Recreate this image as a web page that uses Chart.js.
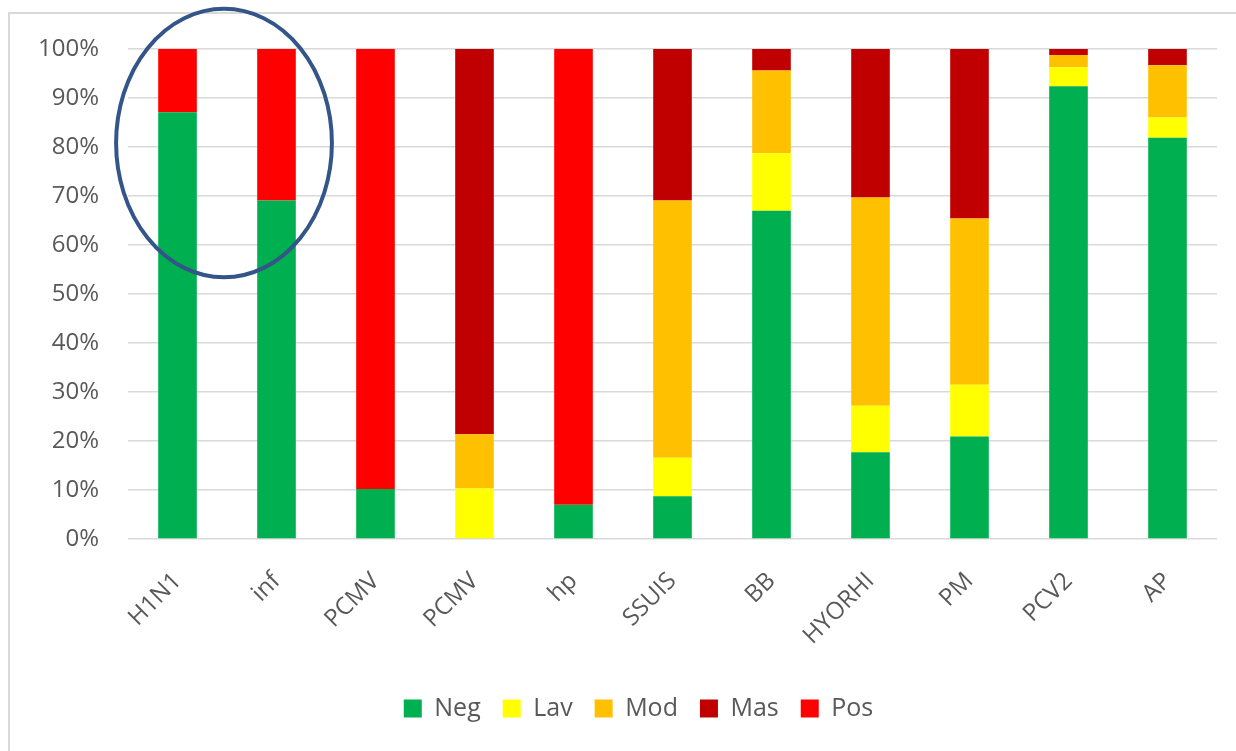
<!DOCTYPE html>
<html>
<head>
<meta charset="utf-8">
<script src="https://cdn.jsdelivr.net/npm/chart.js@4/dist/chart.umd.min.js"></script>
<style>
  html, body { margin: 0; padding: 0; background: #fff; }
  #wrap { position: relative; width: 1236px; height: 751px; overflow: hidden; }
  #frame { position: absolute; left: 8px; top: 12px; width: 1300px; height: 800px; border-left: 2px solid #d9d9d9; border-top: 2px solid #d9d9d9; }
  #chart { position: absolute; left: 0; top: 0; }
</style>
</head>
<body>
<div id="wrap">
  <div id="frame"></div>
  <canvas id="chart" width="1236" height="751"></canvas>
</div>
<script>
const categories = ['H1N1', 'inf', 'PCMV', 'PCMV', 'hp', 'SSUIS', 'BB', 'HYORHI', 'PM', 'PCV2', 'AP'];
const negValues = [87.1, 69.1, 10.2, 0, 7.0, 8.7, 67.0, 17.7, 20.9, 92.4, 81.9];
const lavValues = [0, 0, 0, 10.3, 0, 7.9, 11.7, 9.5, 10.6, 3.9, 4.1];
const modValues = [0, 0, 0, 11.1, 0, 52.5, 16.9, 42.5, 33.9, 2.5, 10.7];
const masValues = [0, 0, 0, 78.6, 0, 30.9, 4.4, 30.3, 34.6, 1.2, 3.3];
const posValues = [12.9, 30.9, 89.8, 0, 93.0, 0, 0, 0, 0, 0, 0];
const yTicks = [0, 10, 20, 30, 40, 50, 60, 70, 80, 90, 100];

const FONT = "'Open Sans', 'Liberation Sans', sans-serif";
const textColor = '#595959';

// blue ellipse drawn around the first two bars
const ellipsePlugin = {
  id: 'ellipse',
  afterLayout(chart) {
    // legend in the original sits a bit right of the canvas centre
    chart.legend.left += 30;
    chart.legend.right += 30;
  },
  afterDraw(chart) {
    const x = chart.scales.x, y = chart.scales.y;
    const x0 = x.getPixelForValue(0), x1 = x.getPixelForValue(1);
    const cx = (x0 + x1) / 2 - 3;
    const cy = y.getPixelForValue(80.8);
    const rx = (x1 - x0) * 1.09;
    const ry = y.getPixelForValue(53.4) - cy;
    const ctx = chart.ctx;
    ctx.save();
    ctx.beginPath();
    ctx.ellipse(cx, cy, rx, ry, 0, 0, Math.PI * 2);
    ctx.lineWidth = 4;
    ctx.strokeStyle = '#34558a';
    ctx.stroke();
    ctx.restore();
  }
};

const mk = (label, data, color) => ({ label, data, backgroundColor: color, borderWidth: 0, barPercentage: 0.39, categoryPercentage: 1 });

new Chart(document.getElementById('chart').getContext('2d'), {
  type: 'bar',
  data: {
    labels: categories,
    datasets: [
      mk('Neg', negValues, '#00b050'),
      mk('Lav', lavValues, '#ffff00'),
      mk('Mod', modValues, '#ffc000'),
      mk('Mas', masValues, '#c00000'),
      mk('Pos', posValues, '#ff0000')
    ]
  },
  options: {
    responsive: false,
    animation: false,
    layout: { padding: { left: 0, right: 19, top: 49, bottom: 20 } },
    plugins: {
      tooltip: { enabled: false },
      legend: {
        position: 'bottom',
        labels: { font: { family: FONT, size: 25 }, color: textColor, boxWidth: 18, boxHeight: 18, padding: 22 }
      }
    },
    scales: {
      x: {
        stacked: true,
        grid: { display: false, drawTicks: false },
        border: { display: false },
        ticks: { font: { family: FONT, size: 24 }, color: textColor, minRotation: 45, maxRotation: 45, padding: 28, autoSkip: false },
        afterFit: s => { s.height = 135; }
      },
      y: {
        stacked: true,
        min: 0,
        max: 100,
        afterBuildTicks: s => { s.ticks = yTicks.map(v => ({ value: v })); },
        grid: { color: '#d9d9d9', lineWidth: 1.5, drawTicks: false },
        border: { display: false },
        ticks: { font: { family: FONT, size: 24 }, color: textColor, padding: 29, callback: v => v + '%' },
        afterFit: s => { s.width = 128; }
      }
    }
  },
  plugins: [ellipsePlugin]
});
</script>
</body>
</html>
